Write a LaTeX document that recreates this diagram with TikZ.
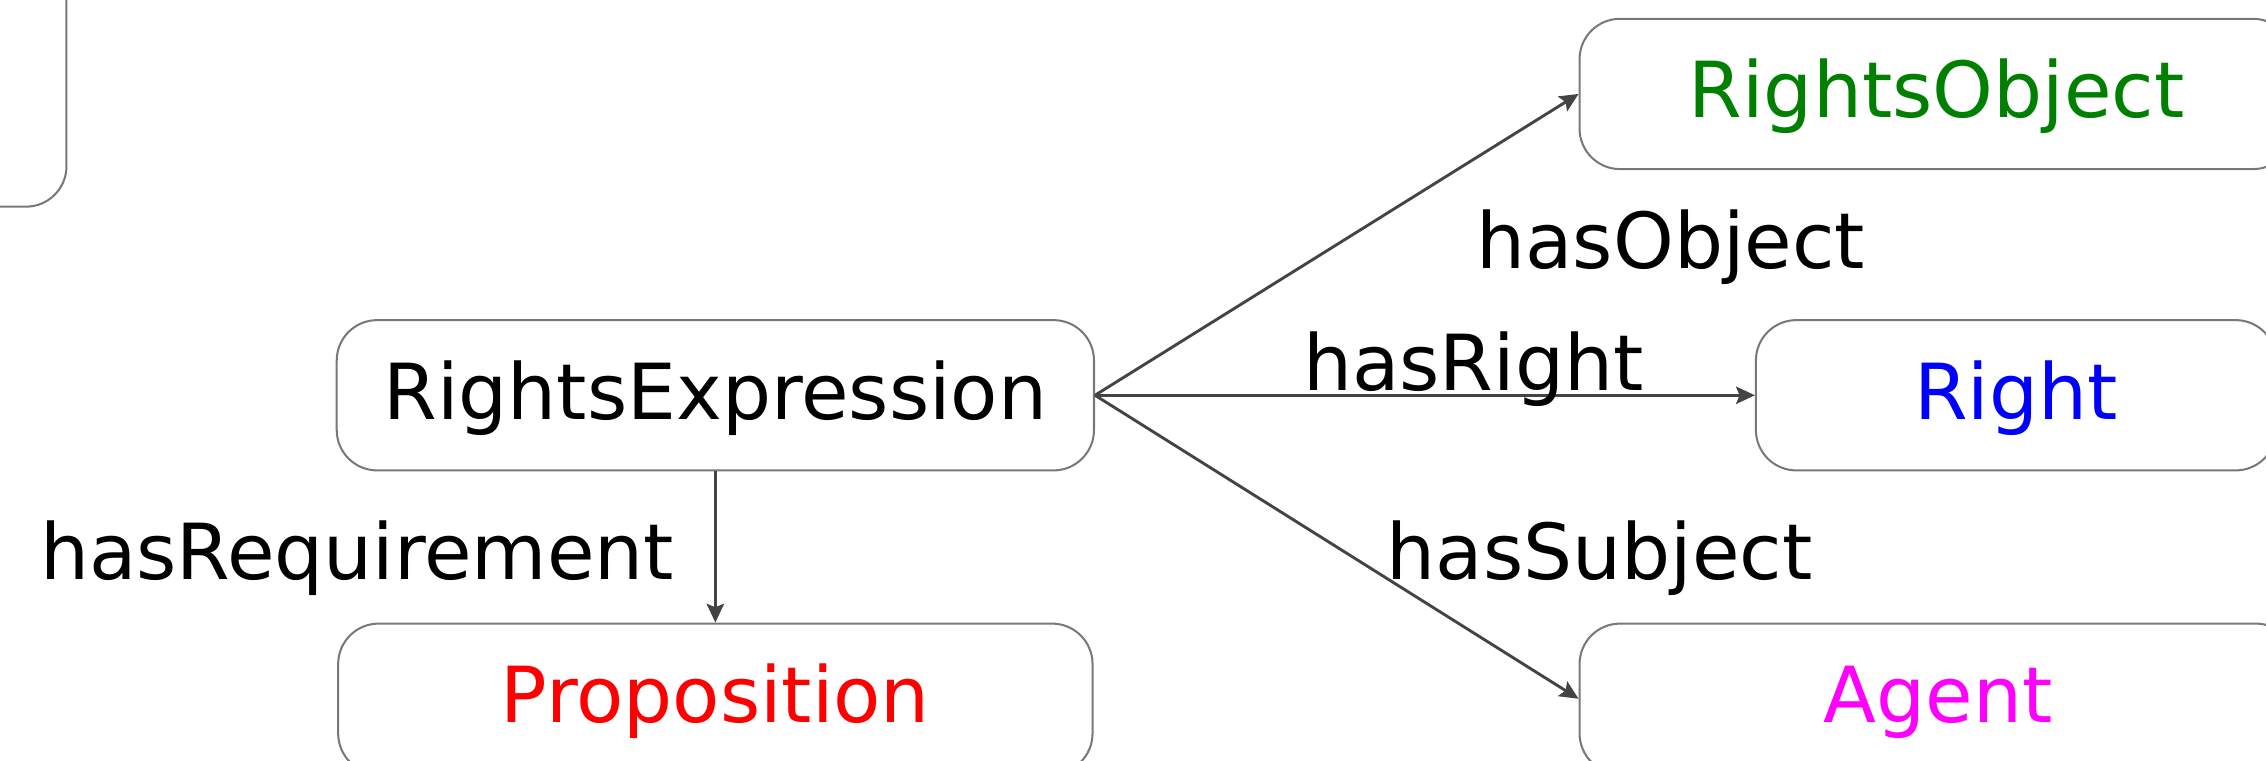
\documentclass[tikz,border=0pt]{standalone}
\usepackage{fontspec}
\setmainfont{DejaVu Sans}
\usetikzlibrary{arrows.meta}

\definecolor{boxgray}{RGB}{120,120,120}
\definecolor{arrowgray}{RGB}{68,68,68}
\definecolor{objgreen}{RGB}{0,128,0}
\definecolor{rightblue}{RGB}{0,0,255}
\definecolor{agentpink}{RGB}{255,0,255}
\definecolor{propred}{RGB}{255,0,0}

\tikzset{every picture/.style={line width=0.7pt}}
\tikzset{
  classbox/.style={draw=boxgray, rounded corners=14pt, minimum height=52pt, inner sep=0pt,
    font=\fontsize{26.75}{30}\selectfont, text height=21.4pt, text depth=4.8pt},
  rel/.style={anchor=base west, inner sep=0pt, font=\fontsize{26.75}{30}\selectfont},
  link/.style={draw=arrowgray, line width=1pt, -{Stealth[length=6.5pt,width=6pt,inset=1.2pt]}}
}

\begin{document}
\begin{tikzpicture}[x=0.5pt,y=0.5pt,yscale=-1,xscale=1]
\useasboundingbox (0,0) rectangle (1568,526);
\clip (0,0) rectangle (1568,526);

% Boxes
\node [classbox, minimum width=196pt, minimum height=123pt] (prevbox) at (-150,20) {};
\node [classbox, minimum width=262pt] (expr) at (495,273.5) {RightsExpression};
\node [classbox, minimum width=247pt, text=objgreen] (object) at (1340,65) {RightsObject};
\node [classbox, minimum width=180pt, text=rightblue] (right) at (1395,273.5) {Right};
\node [classbox, minimum width=248pt, text=agentpink] (agent) at (1341,483.5) {Agent};
\node [classbox, minimum width=261pt, text=propred] (prop) at (495,483.5) {Proposition};

% Links
\draw [link] (expr.east) -- (object.west);
\draw [link] (expr.east) -- (right.west);
\draw [link] (expr.east) -- (agent.west);
\draw [link] (expr.south) -- (prop.north);

% Text Node
\node [rel] (hasobject) at (1021,186) {hasObject};
% Text Node
\node [rel] (hasright) at (901,270) {hasRight};
% Text Node
\node [rel] (hassubject) at (959,401) {hasSubject};
% Text Node
\node [rel] (hasreq) at (27,401) {hasRequirement};

\end{tikzpicture}
\end{document}
